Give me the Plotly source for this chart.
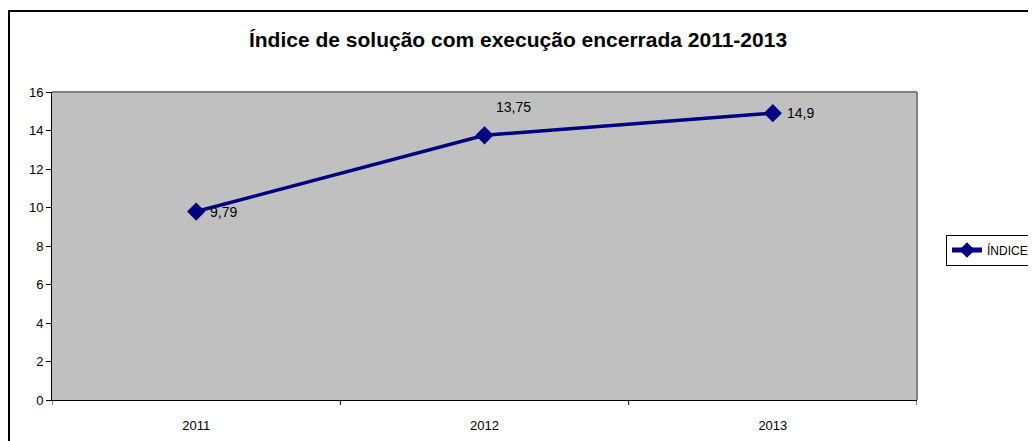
import plotly.graph_objects as go

years = ["2011", "2012", "2013"]
indice = [9.79, 13.75, 14.9]
labels = ["9,79", "13,75", "14,9"]
y_ticks = [0, 2, 4, 6, 8, 10, 12, 14, 16]

# page body has an 8px margin; work in figure coordinates
OFF = 8
W, H = 1036 - OFF, 441 - OFF
L, R, T, B = 52 - OFF, 917 - OFF, 92 - OFF, 400 - OFF
pw, ph = R - L, B - T

# label offsets (px) relative to each point
label_dx = [12, 9, 12]
label_dy = [0, 28, 0]

fig = go.Figure()
fig.add_trace(go.Scatter(
    x=years, y=indice, mode="lines+markers", name="ÍNDICE",
    line=dict(color="#000080", width=3.5),
    marker=dict(symbol="diamond", size=14, color="#000080"),
    cliponaxis=False,
))

for i, (yv, t, dx, dy) in enumerate(zip(indice, labels, label_dx, label_dy)):
    fig.add_annotation(x=i, y=yv, xref="x", yref="y", text=t, showarrow=False,
                       xanchor="left", yanchor="middle", xshift=dx, yshift=dy,
                       font=dict(family="Arial, Liberation Sans", size=14, color="#000000"))

fig.update_layout(
    width=W, height=H,
    margin=dict(l=L, r=W - R, t=T, b=H - B, pad=0, autoexpand=False),
    paper_bgcolor="white", plot_bgcolor="#C0C0C0",
    title=dict(text="<b>Índice de solução com execução encerrada 2011-2013</b>",
               x=(518 - OFF) / W, xanchor="center", y=1 - (40 - OFF) / H, yanchor="middle",
               font=dict(family="Arial, Liberation Sans", size=21, color="#000000")),
    font=dict(family="Arial, Liberation Sans", size=13, color="#000000"),
    showlegend=True,
    legend=dict(x=(946 - OFF - L) / pw, y=(B - (250 - OFF)) / ph, xanchor="left", yanchor="middle",
                bgcolor="white", bordercolor="#000000", borderwidth=1,
                font=dict(size=12, color="#000000"), itemwidth=30,
                itemsizing="constant", tracegroupgap=0),
    xaxis=dict(type="category", range=[-0.5, 2.5], showgrid=False,
               showline=True, linecolor="#000000", linewidth=1,
               ticks="", tickfont=dict(size=13), ticklabelstandoff=13,
               mirror=False, zeroline=False, automargin=False),
    yaxis=dict(range=[0, 16], tickvals=y_ticks, showgrid=False,
               showline=True, linecolor="#000000", linewidth=1,
               ticks="outside", ticklen=5, tickcolor="#000000",
               tickfont=dict(size=13), zeroline=False, automargin=False),
)

# x-axis tick marks between categories
for xv in [-0.5, 0.5, 1.5, 2.5]:
    fig.add_shape(type="line", xref="x", yref="paper", x0=xv, x1=xv,
                  y0=0, y1=-5 / ph, line=dict(color="#000000", width=1))

# plot area gray border (top / right)
fig.add_shape(type="line", xref="paper", yref="paper", x0=0, x1=1, y0=1, y1=1,
              line=dict(color="#808080", width=2))
fig.add_shape(type="line", xref="paper", yref="paper", x0=1, x1=1, y0=0, y1=1,
              line=dict(color="#808080", width=2))

# outer chart frame
fig.add_shape(type="rect", xref="paper", yref="paper",
              x0=(1 - L) / pw, x1=(W + 10 - L) / pw,
              y0=-(H + 10 - B) / ph, y1=(B - (11 - OFF)) / ph,
              line=dict(color="#000000", width=2), fillcolor="rgba(0,0,0,0)",
              layer="below")

fig.write_html("out.html")
